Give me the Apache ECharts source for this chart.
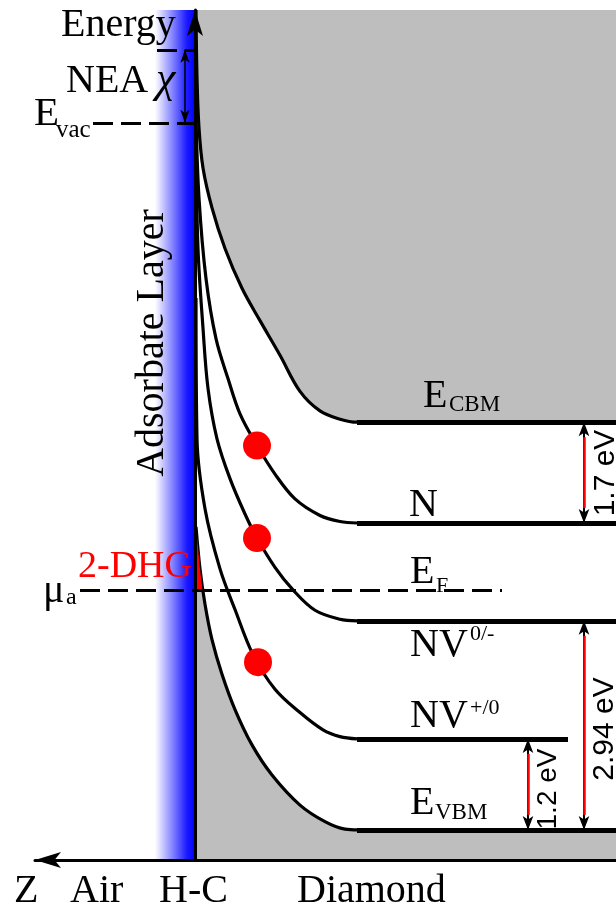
<!DOCTYPE html>
<html>
<head>
<meta charset="utf-8">
<script src="https://cdn.jsdelivr.net/npm/echarts@6/dist/echarts.min.js"></script>
<style>
  html, body { margin: 0; padding: 0; background: #fff; }
  #chart { width: 616px; height: 909px; }
</style>
</head>
<body>
<div id="chart"></div>
<script>
// x: depth from the H-C surface (a.u., surface at 0), y: energy above E_VBM (eV, schematic)
var cbmCurve = [[0.1, 10.9], [0.2, 10.0], [0.4, 9.33], [0.8, 8.8], [1.7, 8.27], [3.0, 7.73], [4.7, 7.2],
  [6.5, 6.77], [8.5, 6.31], [10.5, 5.83], [12.5, 5.57], [14.5, 5.46], [16.2, 5.42], [42.1, 5.42]];
var nCurve = [[0.1, 9.47], [0.4, 8.4], [1.1, 7.33], [2.1, 6.53], [3.3, 6.0], [4.5, 5.53], [6.2, 5.11],
  [8.0, 4.73], [10.0, 4.4], [12.5, 4.18], [14.5, 4.1], [16.2, 4.08]];
var nv0Curve = [[0.1, 9.07], [0.3, 7.73], [0.8, 6.67], [1.3, 5.87], [2.2, 5.2], [3.5, 4.67], [5.0, 4.2],
  [6.2, 3.88], [8.0, 3.49], [9.8, 3.19], [12.0, 2.92], [14.5, 2.8], [16.2, 2.78]];
var nvpCurve = [[0.1, 7.07], [0.2, 5.2], [1.0, 4.27], [2.5, 3.47], [4.0, 2.93], [5.8, 2.33], [8.0, 1.87],
  [10.5, 1.56], [12.8, 1.33], [14.5, 1.24], [16.2, 1.21]];
var vbmCurve = [[0.1, 4.03], [0.5, 3.47], [1.0, 3.0], [1.7, 2.53], [2.7, 2.07], [4.0, 1.6], [5.7, 1.13],
  [7.7, 0.73], [10.5, 0.33], [13.0, 0.11], [15.0, 0.01], [16.3, 0], [42.1, 0]];

// flat bulk levels: E_CBM, N, NV0/-, NV+/0, E_VBM
var levels = [5.42, 4.08, 2.78, 1.21, 0];
var levelEnds = [42.1, 42.1, 42.1, 37.3, 42.1];
var flatStart = 16.2;

var fermi = 3.19;      // mu_a / E_F
var eVac = 9.40;
var eTopNEA = 10.37;
var layerLeft = -4.0;  // adsorbate layer width

var dhgPolygon = [[0, 3.19], [0, 4.1], [0.1, 4.03], [0.5, 3.47], [0.75, 3.19]];
var holes = [[6.2, 5.11], [6.2, 3.88], [6.3, 2.23]];

// gap arrows: [x, from, to]
var gaps = [[38.9, 5.42, 4.08], [38.9, 2.78, 0], [33.3, 1.21, 0]];
var gapLabels = ['1.7 eV', '2.94 eV', '1.2 eV'];

var chart = echarts.init(document.getElementById('chart'));
var gray = '#bebebe';
var serif = '"Liberation Serif", "Times New Roman", serif';
var sans = '"Liberation Sans", Arial, sans-serif';

function txt(s, x, y, size, o) {
  o = o || {};
  var align = o.align || 'left';
  return {
    type: 'text', x: x, y: y, rotation: o.rot || 0, z: 100,
    style: {
      text: s,
      font: (o.italic ? 'italic ' : '') + size + 'px ' + (o.sans ? sans : serif),
      fill: o.color || '#000',
      textAlign: align, align: align,
      textVerticalAlign: 'middle', verticalAlign: 'middle'
    }
  };
}

function curve(name, data) {
  return {
    name: name, type: 'line', data: data, smooth: 0.35,
    symbol: 'none', lineStyle: { color: '#000', width: 3.2 }, z: 4, silent: true
  };
}

var R = Math.PI / 2;
var texts = [
  txt('Energy', 61, 25, 40),
  txt('NEA', 66, 81, 40),
  txt('χ', 156, 80, 44, { italic: true }),
  txt('E', 34, 114, 41),
  txt('vac', 56, 130, 25),
  txt('Adsorbate Layer', 152, 343, 40, { rot: R, align: 'center' }),
  txt('E', 423, 396, 40),
  txt('CBM', 449, 405, 23),
  txt('N', 409, 505, 40),
  txt('E', 410, 572, 40),
  txt('F', 436, 586, 22),
  txt('NV', 410, 645, 40),
  txt('0/-', 470, 634, 22),
  txt('NV', 410, 716, 40),
  txt('+/0', 470, 708, 22),
  txt('E', 410, 803, 40),
  txt('VBM', 435, 813, 23),
  txt('2-DHG', 78, 567, 38, { color: '#ff0000' }),
  txt('μ', 43, 591, 40),
  txt('a', 66, 598, 24),
  txt('Z', 14, 891, 40),
  txt('Air', 70, 891, 40),
  txt('H-C', 159, 891, 40),
  txt('Diamond', 297, 891, 40),
  txt(gapLabels[0], 606, 473, 30, { rot: R, align: 'center', sans: true }),
  txt(gapLabels[1], 605, 729, 30, { rot: R, align: 'center', sans: true }),
  txt(gapLabels[2], 548, 789, 28, { rot: R, align: 'center', sans: true })
];

var option = {
  animation: false,
  grid: { left: 35, right: 0, top: 10, bottom: 49 },
  xAxis: {
    type: 'value', min: -16, max: 42.1, z: 10,
    axisLine: { onZero: false, symbol: ['arrow', 'none'], symbolSize: [12, 26], lineStyle: { color: '#000', width: 3 } },
    axisTick: { show: false }, axisLabel: { show: false }, splitLine: { show: false }
  },
  yAxis: {
    type: 'value', min: -0.4, max: 10.9, z: 10,
    axisLine: { onZero: true, symbol: ['none', 'arrow'], symbolSize: [12, 26], lineStyle: { color: '#000', width: 3 } },
    axisTick: { show: false }, axisLabel: { show: false }, splitLine: { show: false }
  },
  graphic: texts,
  series: [
    {
      name: 'E_CBM', type: 'line', data: cbmCurve, smooth: 0.35, symbol: 'none', silent: true,
      lineStyle: { color: '#000', width: 3.2 }, areaStyle: { color: gray, opacity: 1, origin: 'end' }, z: 2,
      markArea: {
        silent: true,
        itemStyle: {
          color: {
            type: 'linear', x: 0, y: 0, x2: 1, y2: 0,
            colorStops: [{ offset: 0, color: '#ffffff' }, { offset: 0.45, color: '#8080ff' },
              { offset: 0.8, color: '#1a1aff' }, { offset: 1, color: '#0000ff' }]
          }
        },
        data: [[{ coord: [layerLeft, -0.4] }, { coord: [0, 10.9] }]]
      }
    },
    {
      name: 'E_VBM', type: 'line', data: vbmCurve, smooth: 0.35, symbol: 'none', silent: true,
      lineStyle: { color: '#000', width: 3.2 }, areaStyle: { color: gray, opacity: 1, origin: 'start' }, z: 2
    },
    {
      name: '2-DHG', type: 'custom', data: dhgPolygon, z: 3, silent: true,
      renderItem: function (params, api) {
        if (params.dataIndex !== 0) return null;
        return {
          type: 'polygon',
          shape: { points: dhgPolygon.map(function (p) { return api.coord(p); }) },
          style: { fill: '#ff0000' }
        };
      }
    },
    curve('N', nCurve),
    curve('NV0/-', nv0Curve),
    curve('NV+/0', nvpCurve),
    {
      name: 'levels', type: 'line', data: [], z: 5,
      markLine: {
        silent: true, symbol: 'none', label: { show: false },
        lineStyle: { color: '#000', width: 5, type: 'solid' },
        data: levels.map(function (e, i) { return [{ coord: [flatStart, e] }, { coord: [levelEnds[i], e] }]; })
      }
    },
    {
      name: 'dashed', type: 'line', data: [], z: 5,
      markLine: {
        silent: true, symbol: 'none', label: { show: false },
        lineStyle: { color: '#000', width: 3, type: [20, 8] },
        data: [
          [{ coord: [-11.5, fermi] }, { coord: [30.7, fermi] }],
          [{ coord: [-10.2, eVac] }, { coord: [0, eVac] }],
          [{ coord: [-3.8, eTopNEA] }, { coord: [0, eTopNEA] }]
        ]
      }
    },
    {
      name: 'chi', type: 'line', data: [], z: 5,
      markLine: {
        silent: true, symbol: ['arrow', 'arrow'], symbolSize: [7, 13], label: { show: false },
        lineStyle: { color: '#000', width: 1.5, type: 'solid' },
        data: [[{ coord: [-1.0, eTopNEA] }, { coord: [-1.0, eVac] }]]
      }
    },
    {
      name: 'gapHeads', type: 'line', data: [], z: 5,
      markLine: {
        silent: true, symbol: ['arrow', 'arrow'], symbolSize: [8, 14], label: { show: false },
        lineStyle: { color: '#000', width: 2, type: 'solid' },
        data: gaps.map(function (g) { return [{ coord: [g[0], g[1]] }, { coord: [g[0], g[2]] }]; })
      }
    },
    {
      name: 'gapShafts', type: 'line', data: [], z: 6,
      markLine: {
        silent: true, symbol: 'none', label: { show: false },
        lineStyle: { color: '#ff0000', width: 2.5, type: 'solid' },
        data: gaps.map(function (g) { return [{ coord: [g[0], g[1] - 0.2] }, { coord: [g[0], g[2] + 0.2] }]; })
      }
    },
    {
      name: 'holes', type: 'scatter', data: holes, symbolSize: 28, silent: true,
      itemStyle: { color: '#ff0000', opacity: 1 }, z: 7
    }
  ]
};
chart.setOption(option);
</script>
</body>
</html>
